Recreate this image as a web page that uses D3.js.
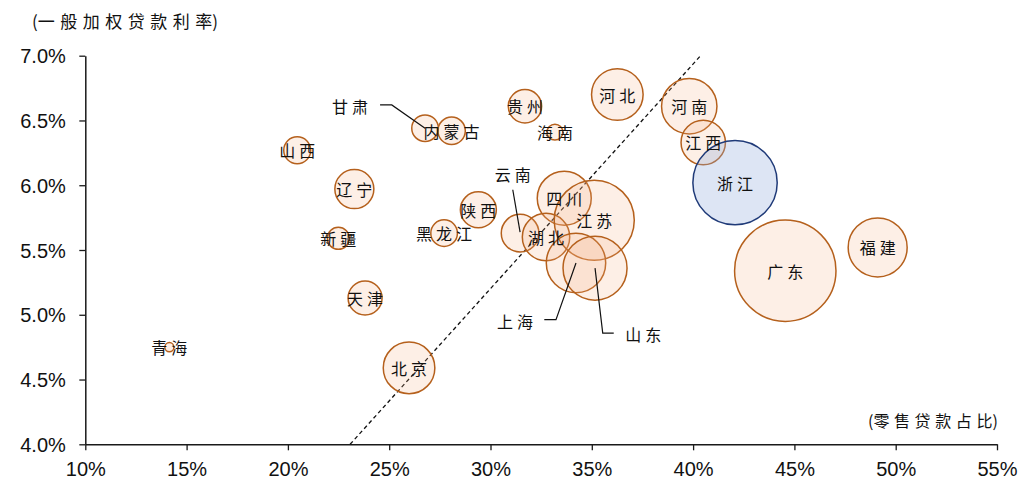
<!DOCTYPE html>
<html>
<head>
<meta charset="utf-8">
<script src="https://cdn.jsdelivr.net/npm/d3@7"></script>
<style>
  html, body { margin: 0; padding: 0; background: #ffffff; }
  svg { display: block; }
</style>
</head>
<body>
<div id="chart"></div>
<script>
// Provinces, in drawing order (later ones sit on top)
const provinces = ["青海","新疆","山西","甘肃","内蒙古","天津","辽宁","黑龙江","陕西","贵州","海南","北京",
                   "云南","四川","湖北","江苏","上海","山东","河北","河南","江西","浙江","广东","福建"];
// Retail loans as a share of all loans (%)
const retailShare = [14.15,22.49,20.46,26.77,28.08,23.81,23.28,27.71,29.40,31.70,33.18,25.98,
                     31.46,33.64,32.74,35.12,34.22,35.16,36.26,39.81,40.50,42.07,44.55,49.11];
// Weighted average general lending rate (%)
const loanRate = [4.75,5.59,6.27,6.44,6.42,5.13,5.97,5.63,5.81,6.61,6.41,4.59,
                  5.63,5.90,5.60,5.73,5.40,5.36,6.70,6.61,6.33,6.02,5.34,5.52];
// Loan balance, sets bubble area
const loanSize = [0.20,1.18,1.77,1.72,1.83,2.81,3.70,1.72,3.15,2.71,0.62,6.47,
                  3.44,7.09,5.46,15.6,8.58,9.96,6.47,7.46,4.79,17.3,25.0,8.46];

const xTicks = [10,15,20,25,30,35,40,45,50,55];
const yTicks = [4.0,4.5,5.0,5.5,6.0,6.5,7.0];

// Reference line endpoints
const refLineX = [23.07, 40.37];
const refLineY = [4.0, 7.0];

const highlighted = "浙江";

// Labels placed away from their bubble, with a leader line (pixel offsets from the bubble centre)
const callouts = {
  "甘肃":  { label: [-75, -22.6], path: [[-45, -23.3], [-33.3, -23.3], [0, 0]] },
  "云南":  { label: [-7.3, -59.4], path: [[-7.3, -43.4], [0, -1]] },
  "上海":  { label: [-61, 58.4],  path: [[-31.7, 56.7], [-20, 56.7], [0, 0]] },
  "山东":  { label: [48.3, 66],   path: [[18.7, 65], [7.7, 65], [0, 0]] }
};

const W = 1020, H = 479;
const plot = { left: 85.3, right: 997, top: 55.7, bottom: 444.3 };

const svg = d3.select("#chart").append("svg")
  .attr("width", W).attr("height", H);

const x = d3.scaleLinear().domain([10, 55]).range([plot.left, plot.right]);
const y = d3.scaleLinear().domain([4.0, 7.0]).range([plot.bottom, plot.top]);
const r = d3.scaleSqrt().domain([0, 25]).range([0, 50.7]);

const tickFont = "'Liberation Sans', Arial, sans-serif";
const cjkFont = "'Noto Sans CJK SC', sans-serif";

// Axes
const xAxis = svg.append("g")
  .attr("transform", `translate(0,${plot.bottom})`)
  .call(d3.axisBottom(x).tickValues(xTicks).tickFormat(d => d + "%").tickSize(6).tickSizeOuter(0));
const yAxis = svg.append("g")
  .attr("transform", `translate(${plot.left},0)`)
  .call(d3.axisLeft(y).tickValues(yTicks).tickFormat(d => d3.format(".1f")(d) + "%").tickSize(6).tickSizeOuter(0));

[xAxis, yAxis].forEach(g => {
  g.select(".domain").attr("stroke", "#1a1a1a").attr("stroke-width", 1.5);
  g.selectAll(".tick line").attr("stroke", "#1a1a1a").attr("stroke-width", 1.3);
  g.selectAll(".tick text")
    .attr("font-family", tickFont).attr("font-size", 20).attr("fill", "#111");
});
xAxis.selectAll(".tick text").attr("y", 0).attr("dy", 0).attr("transform", "translate(0,31.7)");
yAxis.selectAll(".tick text").attr("x", -19.5).attr("dy", "0.36em");

// Axis titles: parentheses tight, CJK glyphs spaced out
function spacedTitle(tx, ty, size, spacing, inner) {
  const t = svg.append("text")
    .attr("x", tx).attr("y", ty)
    .attr("font-family", cjkFont).attr("font-size", size).attr("fill", "#111");
  t.append("tspan").text("(");
  t.append("tspan").attr("letter-spacing", spacing).text(inner.slice(0, -1));
  t.append("tspan").text(inner.slice(-1) + ")");
}
spacedTitle(32, 28, 17, 5.5, "一般加权贷款利率");
spacedTitle(868, 427, 16, 4.6, "零售贷款占比");

// Dashed reference line
svg.append("line")
  .attr("x1", x(refLineX[0])).attr("y1", y(refLineY[0]))
  .attr("x2", x(refLineX[1])).attr("y2", y(refLineY[1]))
  .attr("stroke", "#111").attr("stroke-width", 1.3)
  .attr("stroke-dasharray", "4,3");

const rows = provinces.map((p, i) => ({
  name: p, share: retailShare[i], rate: loanRate[i], size: loanSize[i]
}));

// Bubbles
svg.append("g").selectAll("circle")
  .data(rows).join("circle")
  .attr("cx", d => x(d.share))
  .attr("cy", d => y(d.rate))
  .attr("r", d => r(d.size))
  .attr("fill", d => d.name === highlighted ? "#8faadc" : "#f4b183")
  .attr("fill-opacity", d => d.name === highlighted ? 0.3 : 0.2)
  .attr("stroke", d => d.name === highlighted ? "#1f3a78" : "#b5601c")
  .attr("stroke-width", 1.5);

// Leader lines
const lineGen = d3.line();
svg.append("g").selectAll("path")
  .data(rows.filter(d => callouts[d.name])).join("path")
  .attr("d", d => {
    const cx = x(d.share), cy = y(d.rate);
    return lineGen(callouts[d.name].path.map(([dx, dy]) => [cx + dx, cy + dy]));
  })
  .attr("fill", "none").attr("stroke", "#111").attr("stroke-width", 1.2);

// Province labels
const labelSpacing = 4;
svg.append("g").selectAll("text")
  .data(rows).join("text")
  .attr("x", d => x(d.share) + (callouts[d.name] ? callouts[d.name].label[0] : 0) + labelSpacing / 2)
  .attr("y", d => y(d.rate) + (callouts[d.name] ? callouts[d.name].label[1] : 0))
  .attr("text-anchor", "middle")
  .attr("dominant-baseline", "central")
  .attr("font-family", cjkFont).attr("font-size", 16)
  .attr("letter-spacing", labelSpacing)
  .attr("fill", "#111")
  .text(d => d.name);
</script>
</body>
</html>
